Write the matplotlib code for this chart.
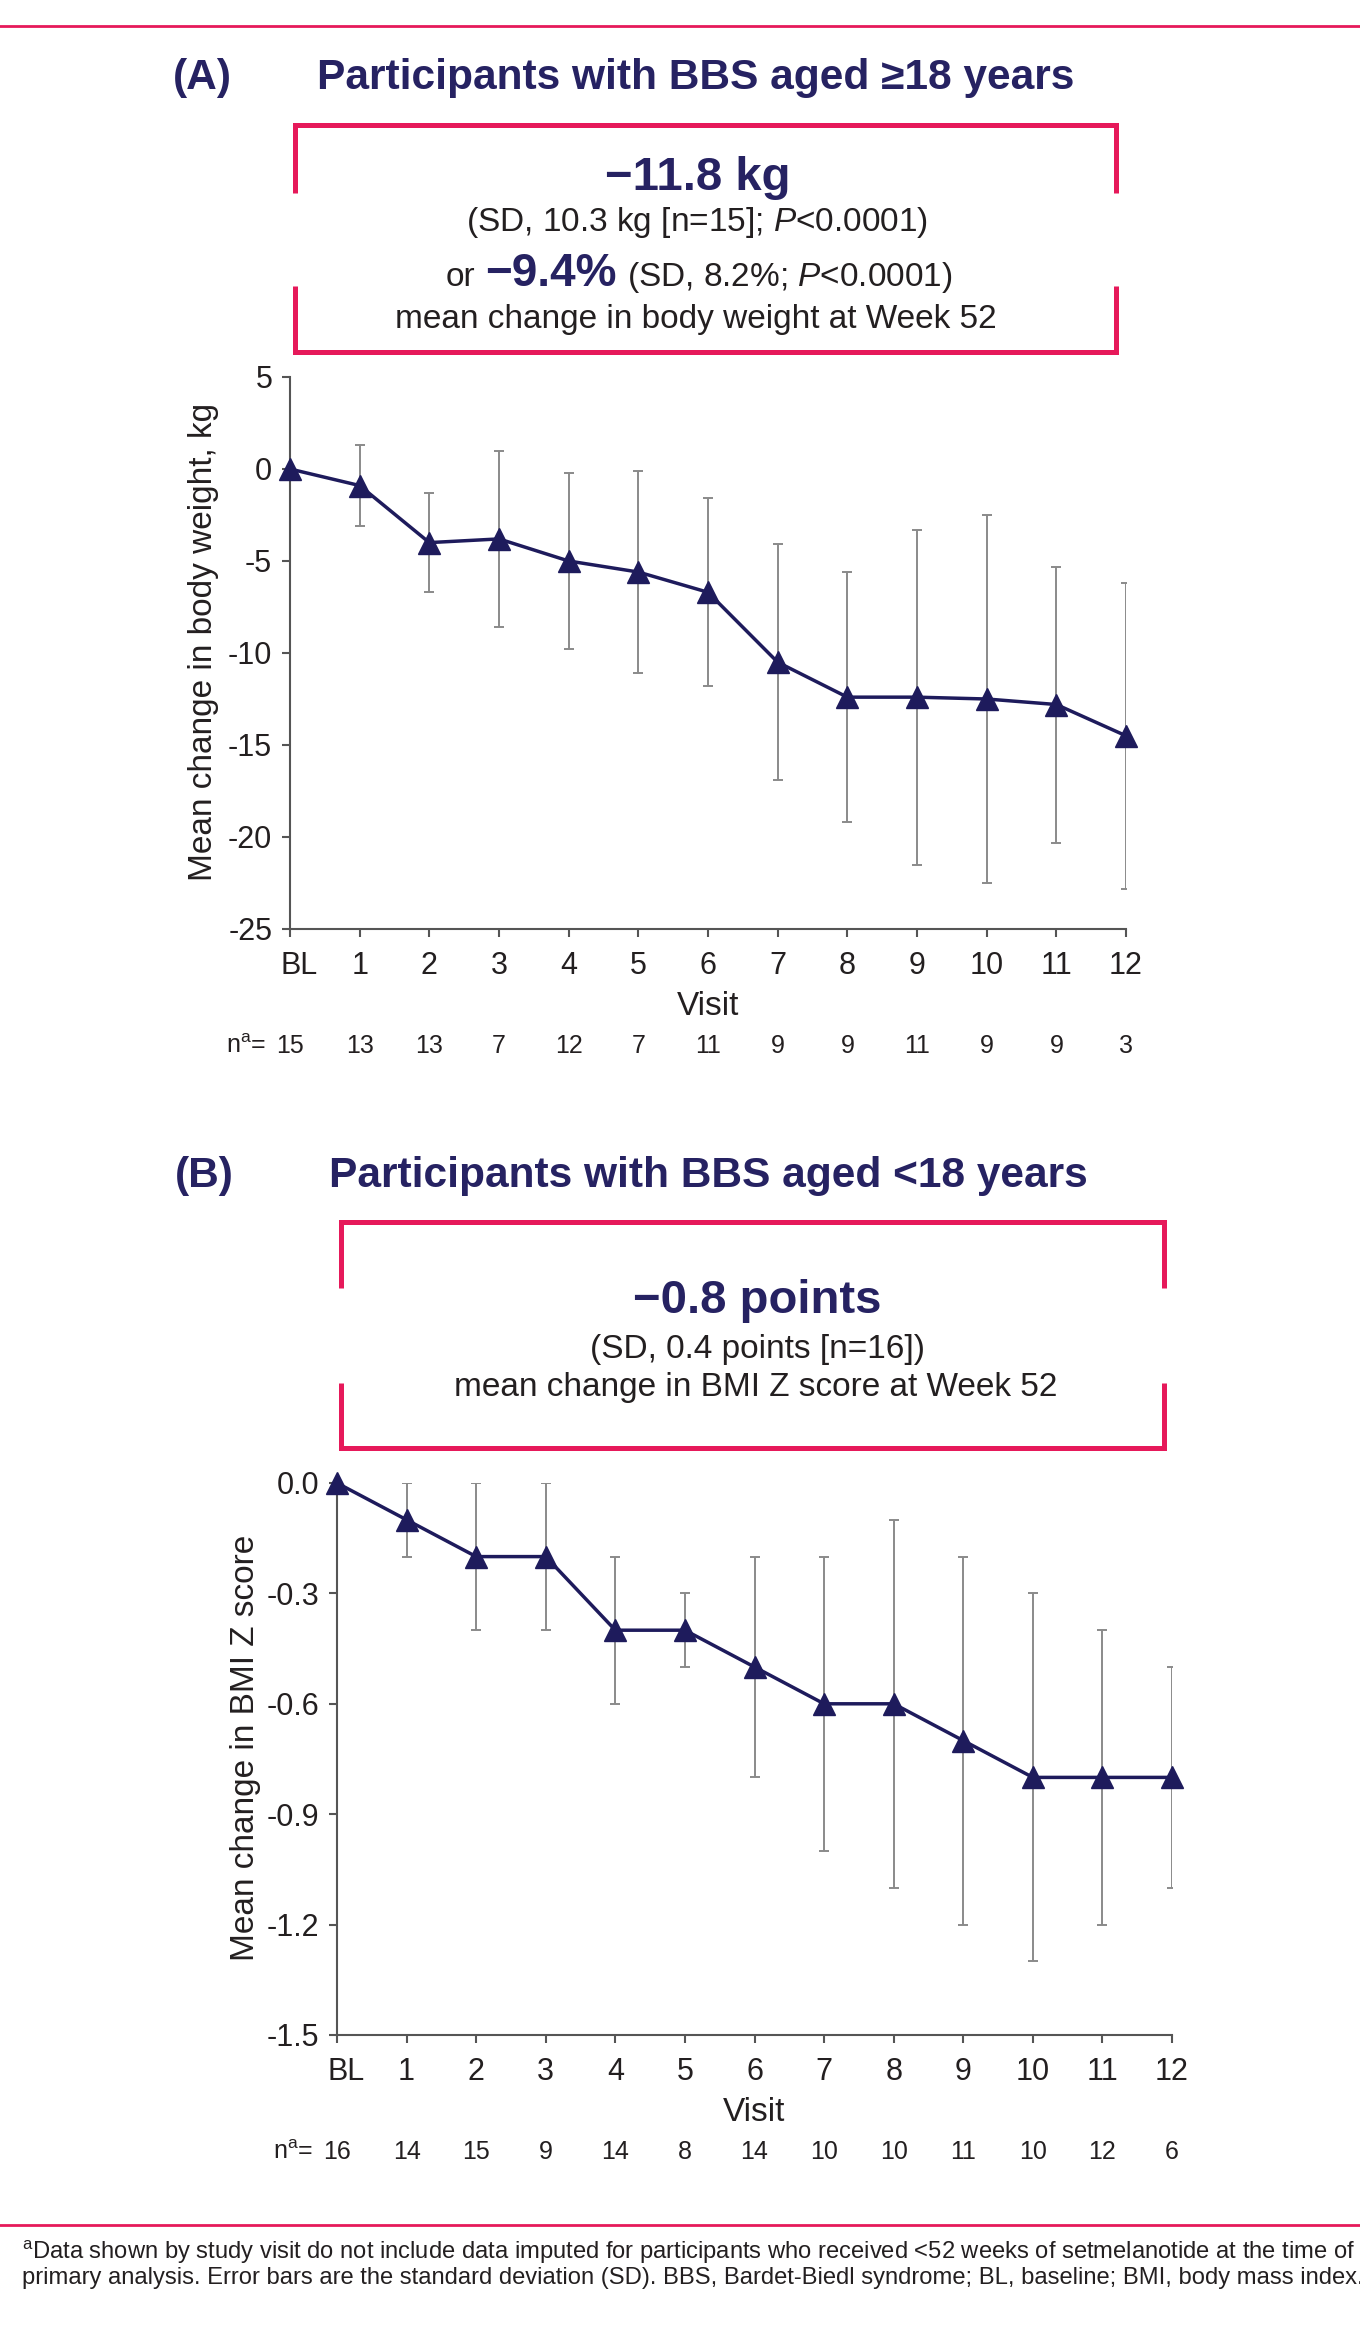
import matplotlib
matplotlib.use('Agg')
import matplotlib.pyplot as plt
from matplotlib.lines import Line2D
from matplotlib import transforms

plt.rcParams['font.family'] = ['Liberation Sans', 'DejaVu Sans']
plt.rcParams['mathtext.fontset'] = 'custom'
plt.rcParams['mathtext.rm'] = 'Liberation Sans'
plt.rcParams['mathtext.it'] = 'Liberation Sans:italic'
plt.rcParams['axes.unicode_minus'] = False

# data
visits = ['BL', '1', '2', '3', '4', '5', '6', '7', '8', '9', '10', '11', '12']
adult_mean = [0, -0.9, -4.0, -3.8, -5.0, -5.6, -6.7, -10.5, -12.4, -12.4, -12.5, -12.8, -14.5]
adult_sd = [0, 2.2, 2.7, 4.8, 4.8, 5.5, 5.1, 6.4, 6.8, 9.1, 10.0, 7.5, 8.3]
adult_n = [15, 13, 13, 7, 12, 7, 11, 9, 9, 11, 9, 9, 3]
child_mean = [0, -0.1, -0.2, -0.2, -0.4, -0.4, -0.5, -0.6, -0.6, -0.7, -0.8, -0.8, -0.8]
child_sd = [0, 0.1, 0.2, 0.2, 0.2, 0.1, 0.3, 0.4, 0.5, 0.5, 0.5, 0.4, 0.3]
child_n = [16, 14, 15, 9, 14, 8, 14, 10, 10, 11, 10, 12, 6]
adult_yticks = [5, 0, -5, -10, -15, -20, -25]
child_yticks = [0.0, -0.3, -0.6, -0.9, -1.2, -1.5]

NAVY = '#1e1b5c'
TITLE = '#262262'
PINK = '#e6195a'
GRAY = '#8a8a8a'
AXC = '#555555'
BLACK = '#231f20'

W, H = 1360, 2346
fig = plt.figure(figsize=(W / 100, H / 100), dpi=100)
rend = fig.canvas.get_renderer()


def fx(x):
    return x / W


def fy(y):
    return 1 - y / H


def pink_path(pts, lw):
    fig.add_artist(Line2D([fx(p[0]) for p in pts], [fy(p[1]) for p in pts],
                          color=PINK, lw=lw, solid_joinstyle='miter',
                          solid_capstyle='butt'))


def bracket_box(x0, x1, ytop, ygap0, ygap1, ybot):
    pink_path([(x0, ygap0), (x0, ytop), (x1, ytop), (x1, ygap0)], 3.6)
    pink_path([(x0, ygap1), (x0, ybot), (x1, ybot), (x1, ygap1)], 3.6)


def text_row(xc, y, parts, gap):
    objs = []
    for s, size, weight, color in parts:
        objs.append(fig.text(0, fy(y), s, fontsize=size, weight=weight,
                             color=color, va='baseline', ha='left'))
    widths = [o.get_window_extent(renderer=rend).width for o in objs]
    total = sum(widths) + gap * (len(objs) - 1)
    x = xc - total / 2
    for o, w in zip(objs, widths):
        o.set_x(fx(x))
        x += w + gap


def panel(ax, mean, sd, n, yticks, fmt, ylabel, ylabel_x):
    x = list(range(len(visits)))
    ax.errorbar(x[1:], mean[1:], yerr=sd[1:], fmt='none', ecolor=GRAY,
                elinewidth=1.4, capsize=3.6, capthick=1.4, zorder=2)
    ax.plot(x, mean, color=NAVY, lw=2.5, marker='^', ms=16.5, zorder=3,
            clip_on=False)
    ax.set_xlim(0, 12)
    ax.set_ylim(yticks[-1], yticks[0])
    ax.set_yticks(yticks)
    ax.set_yticklabels([fmt.format(t) for t in yticks])
    ax.set_xticks(x)
    ax.set_xticklabels(visits)
    for s in ['top', 'right']:
        ax.spines[s].set_visible(False)
    for s in ['left', 'bottom']:
        ax.spines[s].set_color(AXC)
        ax.spines[s].set_linewidth(1.5)
    ax.tick_params(direction='out', length=5.8, width=1.5, color=AXC,
                   labelsize=22, labelcolor=BLACK)
    ax.tick_params(axis='x', pad=10)
    ax.tick_params(axis='y', pad=7)
    bl = ax.get_xticklabels()[0]
    bl.set_transform(bl.get_transform() +
                     transforms.ScaledTranslation(0.09, 0, fig.dpi_scale_trans))
    ax.text(ylabel_x, 0.52, ylabel, transform=ax.transAxes, rotation=90,
            ha='center', va='center', fontsize=24, color=BLACK)
    ax.text(0.5, -0.155, 'Visit', transform=ax.transAxes, ha='center',
            va='baseline', fontsize=24, color=BLACK)
    trans = transforms.blended_transform_factory(ax.transData, ax.transAxes)
    ax.text(-0.35, -0.2255, r'n$^{\mathrm{a}}$=', transform=trans, ha='right',
            va='baseline', fontsize=18, color=BLACK)
    for i, v in enumerate(n):
        ax.text(i, -0.2255, str(v), transform=trans, ha='center',
                va='baseline', fontsize=18, color=BLACK)


# page rules
fig.add_artist(Line2D([0, 1], [fy(26), fy(26)], color=PINK, lw=2))
fig.add_artist(Line2D([0, 1], [fy(2225), fy(2225)], color=PINK, lw=2))

# panel A
fig.text(fx(173), fy(89), '(A)', fontsize=30.6, weight='bold', color=TITLE, va='baseline')
fig.text(fx(317), fy(89), 'Participants with BBS aged ≥18 years', fontsize=30.6,
         weight='bold', color=TITLE, va='baseline')
bracket_box(295, 1116, 125, 193, 286, 352)
fig.text(fx(698), fy(190), '−11.8 kg', fontsize=34, weight='bold', color=TITLE,
         ha='center', va='baseline')
fig.text(fx(697), fy(231), r'(SD, 10.3 kg [n=15]; $\mathit{P}$<0.0001)', fontsize=24,
         color=BLACK, ha='center', va='baseline')
text_row(699, 286, [('or', 24, 'normal', BLACK),
                    ('−9.4%', 33, 'bold', TITLE),
                    (r'(SD, 8.2%; $\mathit{P}$<0.0001)', 24, 'normal', BLACK)], 10)
fig.text(fx(696), fy(328), 'mean change in body weight at Week 52', fontsize=24,
         color=BLACK, ha='center', va='baseline')

axA = fig.add_axes([fx(290), fy(929), (1126 - 290) / W, 552 / H])
panel(axA, adult_mean, adult_sd, adult_n, adult_yticks, '{:d}',
      'Mean change in body weight, kg', -0.104)

# panel B
fig.text(fx(175), fy(1187), '(B)', fontsize=30.6, weight='bold', color=TITLE, va='baseline')
fig.text(fx(329), fy(1187), 'Participants with BBS aged <18 years', fontsize=30.6,
         weight='bold', color=TITLE, va='baseline')
bracket_box(341, 1164, 1222, 1288, 1383, 1448)
fig.text(fx(757), fy(1313), '−0.8 points', fontsize=34, weight='bold', color=TITLE,
         ha='center', va='baseline')
fig.text(fx(757), fy(1358), '(SD, 0.4 points [n=16])', fontsize=24,
         color=BLACK, ha='center', va='baseline')
fig.text(fx(756), fy(1396), 'mean change in BMI Z score at Week 52', fontsize=24,
         color=BLACK, ha='center', va='baseline')

axB = fig.add_axes([fx(337), fy(2035), (1172 - 337) / W, 552 / H])
panel(axB, child_mean, child_sd, child_n, child_yticks, '{:.1f}',
      'Mean change in BMI Z score', -0.11)

# footnote
fig.text(fx(22), fy(2259), r'$^{\mathrm{a}}$Data shown by study visit do not include data imputed '
         'for participants who received <52 weeks of setmelanotide at the time of the',
         fontsize=17.1, color=BLACK, va='baseline')
fig.text(fx(22), fy(2284), 'primary analysis. Error bars are the standard deviation (SD). '
         'BBS, Bardet-Biedl syndrome; BL, baseline; BMI, body mass index.',
         fontsize=17.1, color=BLACK, va='baseline')

fig.savefig('out.png', dpi=100)
